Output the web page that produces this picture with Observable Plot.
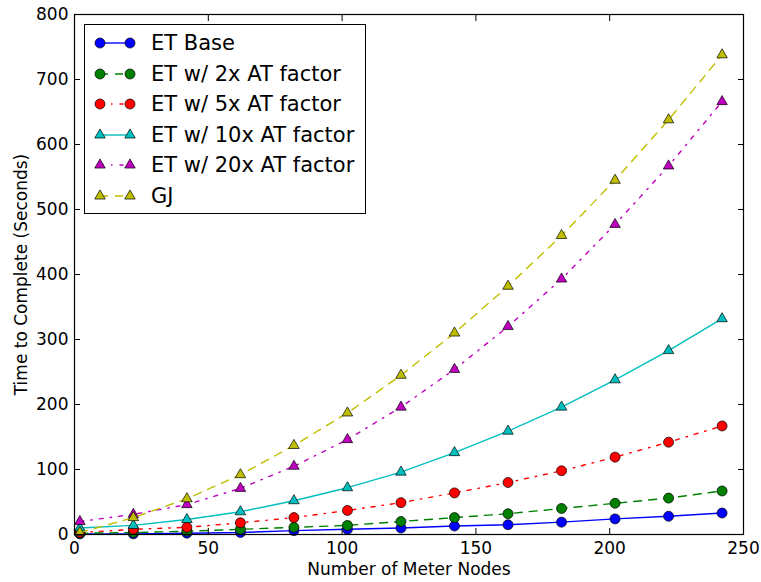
<!DOCTYPE html>
<html>
<head>
<meta charset="utf-8">
<script src="https://cdn.jsdelivr.net/npm/d3@7"></script>
<script src="https://cdn.jsdelivr.net/npm/@observablehq/plot@0.6"></script>
<style>
  html, body { margin: 0; padding: 0; background: #fff; }
  #wrap { position: relative; width: 761px; height: 582px; font-family: "DejaVu Sans", sans-serif; }
  #legend { position: absolute; left: 84px; top: 24px; width: 282px; height: 190px; border: 1px solid #000; background: #fff; box-sizing: border-box; }
  .row { position: absolute; left: 0; height: 30px; display: flex; align-items: center; }
  .row span { font-size: 21px; color: #000; margin-left: 6px; white-space: nowrap; }
</style>
</head>
<body>
<div id="wrap"></div>
<script>
const nodes = [2, 22, 42, 62, 82, 102, 122, 142, 162, 182, 202, 222, 242];
const etBase = [1, 1, 2, 3, 6, 8, 10, 13, 15, 19, 24, 28, 33];
const et2x  = [2, 3, 5, 8, 11, 14, 20, 26, 32, 40, 48, 56, 67];
const et5x  = [3, 8, 11, 18, 26, 37, 49, 64, 80, 98, 119, 142, 167];
const et10x = [10, 14, 23, 35, 52, 72, 96, 126, 159, 196, 238, 283, 332];
const et20x = [20, 31, 46, 71, 105, 146, 196, 254, 320, 393, 477, 567, 666];
const gj    = [3, 26, 55, 92, 137, 187, 245, 310, 382, 460, 545, 638, 738];

const seriesNames = ["ET Base", "ET w/ 2x AT factor", "ET w/ 5x AT factor", "ET w/ 10x AT factor", "ET w/ 20x AT factor", "GJ"];
const seriesValues = [etBase, et2x, et5x, et10x, et20x, gj];
const seriesColors = ["#0000ff", "#008000", "#ff0000", "#00bfbf", "#bf00bf", "#bfbf00"];
const seriesDash = [null, "8,7", "4,7,1.5,7", null, "4,7,1.5,7", "8,7"];
const seriesSymbol = ["circle", "circle", "circle", "triangle", "triangle", "triangle"];

const xTicks = [0, 50, 100, 150, 200, 250];
const yTicks = [0, 100, 200, 300, 400, 500, 600, 700, 800];

const marks = [];
seriesNames.forEach((name, i) => {
  const data = nodes.map((x, j) => ({x, y: seriesValues[i][j]}));
  marks.push(Plot.line(data, {x: "x", y: "y", stroke: seriesColors[i], strokeWidth: 1.4, strokeDasharray: seriesDash[i]}));
  marks.push(Plot.dot(data, {x: "x", y: "y", fill: seriesColors[i], stroke: "#000", strokeWidth: 0.7,
    symbol: seriesSymbol[i], r: seriesSymbol[i] === "circle" ? 5 : 3.9}));
});

const chart = Plot.plot({
  width: 761,
  height: 582,
  marginLeft: 74,
  marginRight: 18,
  marginTop: 14,
  marginBottom: 48,
  style: {fontFamily: "DejaVu Sans, sans-serif", fontSize: "17px", color: "#000", background: "#fff"},
  x: {domain: [0, 250]},
  y: {domain: [0, 800]},
  marks: [
    ...marks,
    Plot.frame({stroke: "#000", strokeWidth: 1.2}),
    Plot.axisX(xTicks, {anchor: "bottom", tickSize: -6, tickPadding: 13, label: "Number of Meter Nodes", labelAnchor: "center", labelArrow: "none", labelOffset: 40, fontSize: 17, stroke: "#000"}),
    Plot.axisX(xTicks, {anchor: "top", tickSize: -6, tickFormat: () => "", label: null, stroke: "#000"}),
    Plot.axisY(yTicks, {anchor: "left", tickSize: -6, tickPadding: 12, label: "Time to Complete (Seconds)", labelAnchor: "center", labelArrow: "none", labelOffset: 60, fontSize: 17, stroke: "#000"}),
    Plot.axisY(yTicks, {anchor: "right", tickSize: -6, tickFormat: () => "", label: null, stroke: "#000"})
  ]
});

const wrap = document.getElementById("wrap");
wrap.appendChild(chart);

// legend
const legend = document.createElement("div");
legend.id = "legend";
const svgNS = "http://www.w3.org/2000/svg";
seriesNames.forEach((name, i) => {
  const row = document.createElement("div");
  row.className = "row";
  row.style.top = (3 + i * 30.5) + "px";
  const svg = document.createElementNS(svgNS, "svg");
  svg.setAttribute("width", 60); svg.setAttribute("height", 30);
  const line = document.createElementNS(svgNS, "line");
  line.setAttribute("x1", 15); line.setAttribute("x2", 45);
  line.setAttribute("y1", 15); line.setAttribute("y2", 15);
  line.setAttribute("stroke", seriesColors[i]); line.setAttribute("stroke-width", 1.4);
  if (seriesDash[i]) line.setAttribute("stroke-dasharray", seriesDash[i]);
  svg.appendChild(line);
  [15, 45].forEach(cx => {
    const p = document.createElementNS(svgNS, "path");
    const sym = seriesSymbol[i] === "circle" ? d3.symbolCircle : d3.symbolTriangle;
    const size = seriesSymbol[i] === "circle" ? Math.PI * 25 : Math.PI * 3.9 * 3.9;
    p.setAttribute("d", d3.symbol(sym, size)());
    p.setAttribute("transform", `translate(${cx},15)`);
    p.setAttribute("fill", seriesColors[i]); p.setAttribute("stroke", "#000"); p.setAttribute("stroke-width", 0.7);
    svg.appendChild(p);
  });
  row.appendChild(svg);
  const label = document.createElement("span");
  label.textContent = name;
  row.appendChild(label);
  legend.appendChild(row);
});
wrap.appendChild(legend);
</script>
</body>
</html>
